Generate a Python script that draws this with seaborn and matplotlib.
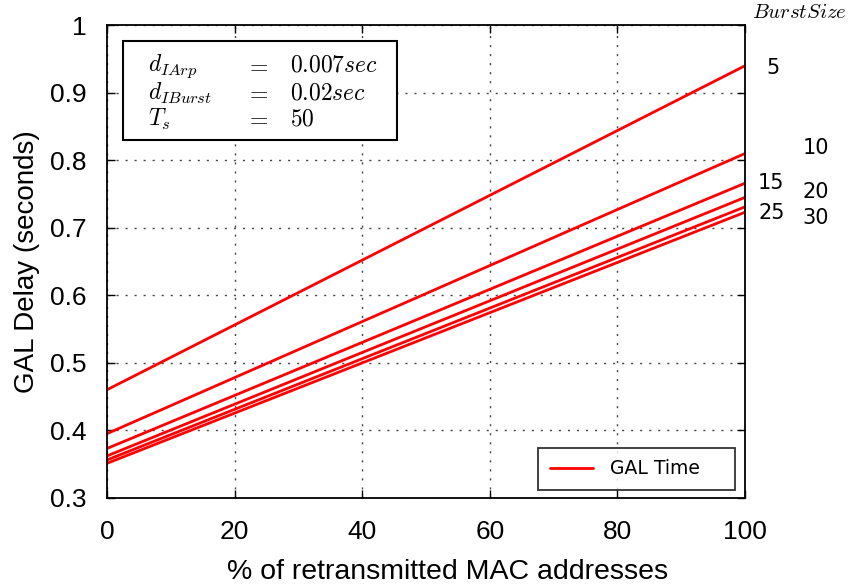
import numpy as np
import pandas as pd
import matplotlib
matplotlib.use("Agg")
import matplotlib.pyplot as plt
import seaborn as sns
from matplotlib.lines import Line2D
from matplotlib.patches import Rectangle

# values
retrans_pct = [0, 100]
burst_sizes = [5, 10, 15, 20, 25, 30]
delay_start = [0.460, 0.395, 0.373, 0.362, 0.356, 0.351]
delay_end = [0.940, 0.810, 0.766, 0.745, 0.731, 0.723]
x_ticks = [0, 20, 40, 60, 80, 100]
y_ticks = [0.3, 0.4, 0.5, 0.6, 0.7, 0.8, 0.9, 1.0]
y_ticklabels = ["0.3", "0.4", "0.5", "0.6", "0.7", "0.8", "0.9", "1"]

rows = []
for b, s, e in zip(burst_sizes, delay_start, delay_end):
    rows.append({"pct": retrans_pct[0], "delay": s, "burst": b})
    rows.append({"pct": retrans_pct[1], "delay": e, "burst": b})
df = pd.DataFrame(rows)

sns.set_style("ticks")
plt.rcParams["font.family"] = ["Liberation Sans", "DejaVu Sans"]
plt.rcParams["mathtext.fontset"] = "cm"
plt.rcParams["text.color"] = "black"
plt.rcParams["axes.labelcolor"] = "black"
plt.rcParams["xtick.color"] = "black"
plt.rcParams["ytick.color"] = "black"

fig = plt.figure(figsize=(8.49, 5.87), dpi=100)
ax = fig.add_axes([0.126, 0.152, 0.7515, 0.805])

sns.lineplot(data=df, x="pct", y="delay", hue="burst",
             palette=["#ff0000"] * len(burst_sizes), linewidth=2,
             legend=False, ax=ax)

ax.set_xlim(0, 100)
ax.set_ylim(0.3, 1.0)
ax.set_xticks(x_ticks)
ax.set_yticks(y_ticks)
ax.set_yticklabels(y_ticklabels)
ax.tick_params(direction="in", top=True, right=True, labelsize=19,
               length=6, width=1)
ax.tick_params(axis="x", pad=16)
ax.tick_params(axis="y", pad=15)
ax.grid(True, linestyle=(0, (1.5, 5)), color="#444444", linewidth=1)
for sp in ax.spines.values():
    sp.set_linewidth(1.3)
    sp.set_color("black")

ax.set_xlabel("% of retransmitted MAC addresses", fontsize=20.5, labelpad=11)
ax.xaxis.label.set_x(0.534)
ax.set_ylabel("GAL Delay (seconds)", fontsize=20, labelpad=7)

# burst size labels on the right
label_pos = {5: (773, 68), 10: (816, 148), 15: (771, 183),
             20: (816, 192), 25: (772, 213), 30: (816, 218)}
for b in burst_sizes:
    px, py = label_pos[b]
    fig.text(px / 849, 1 - py / 587, str(b), fontsize=15, ha="center",
             va="center", family="DejaVu Sans")
fig.text(847 / 849, 1 - 13 / 587, r"$BurstSize$", fontsize=15, ha="right", va="center")

# parameter box
box = Rectangle((123 / 849, 1 - 140 / 587), (397 - 123) / 849, (140 - 41) / 587,
                transform=fig.transFigure, facecolor="white", edgecolor="black",
                linewidth=1.5, zorder=5)
fig.add_artist(box)
params = [(r"$d_{IArp}$", r"$0.007sec$", 66),
          (r"$d_{IBurst}$", r"$0.02sec$", 93),
          (r"$T_s$", r"$50$", 119)]
for name, val, py in params:
    y = 1 - py / 587
    fig.text(148 / 849, y, name, fontsize=17, va="center", zorder=6)
    fig.text(257 / 849, y, r"$=$", fontsize=17, va="center", ha="center", zorder=6)
    fig.text(290 / 849, y, val, fontsize=17, va="center", zorder=6)

handle = Line2D([], [], color="#ff0000", linewidth=2)
leg = ax.legend([handle], ["GAL Time    "], loc="lower right",
                prop={"family": "DejaVu Sans", "size": 13.5},
                frameon=True, fancybox=False, edgecolor="black",
                borderpad=0.6, handlelength=2.3, handletextpad=0.9,
                borderaxespad=0, bbox_to_anchor=(0.984, 0.017))
leg.get_frame().set_linewidth(1.3)

fig.savefig("out.png", dpi=100)
